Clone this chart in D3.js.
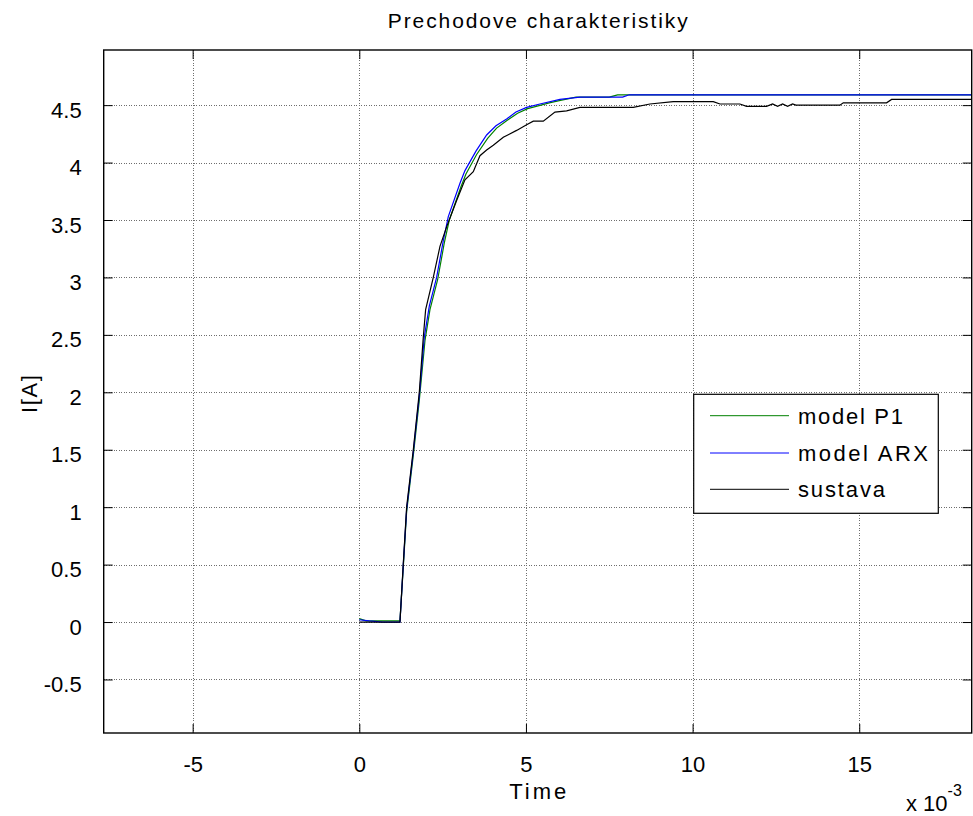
<!DOCTYPE html>
<html><head><meta charset="utf-8">
<script src="https://cdn.jsdelivr.net/npm/d3@7"></script>
<style>
body{margin:0;background:#fff;}
svg text{font-family:Arial,"Liberation Sans",sans-serif;fill:#000;}
</style></head>
<body>
<svg id="c" width="973" height="816"></svg>
<script>
// time in units of 1e-3 s
const xTicks = [-5, 0, 5, 10, 15];
const xTickLabels = ["-5", "0", "5", "10", "15"];
const yTicks = [-0.5, 0, 0.5, 1, 1.5, 2, 2.5, 3, 3.5, 4, 4.5];
const yTickLabels = ["-0.5","0","0.5","1","1.5","2","2.5","3","3.5","4","4.5"];
const seriesNames = ["model P1", "model ARX", "sustava"];
const seriesColors = ["#008000", "#0000ff", "#000000"];

const tP1 = [0,0.2,1.22,1.32,1.42,1.62,1.80,1.97,2.12,2.35,2.55,2.7,3.05,3.2,3.52,3.85,4.12,4.45,4.75,5.05,5.45,5.7,6.0,6.5,7.5,7.75,18.6];
const iP1 = [0.03,0.01,0.01,0.48,0.96,1.45,1.93,2.45,2.72,2.98,3.3,3.5,3.79,3.90,4.07,4.21,4.30,4.37,4.43,4.47,4.50,4.52,4.54,4.57,4.57,4.59,4.59];

const tARX = [0,0.3,0.7,1.22,1.32,1.42,1.62,1.80,1.95,2.1,2.32,2.52,2.67,3.02,3.17,3.5,3.82,4.1,4.42,4.7,5.02,5.42,6.02,6.62,7.9,8.1,18.6];
const iARX = [0.02,0.01,0,0,0.5,0.98,1.48,1.97,2.48,2.75,3.0,3.32,3.53,3.82,3.93,4.1,4.24,4.32,4.38,4.44,4.48,4.51,4.55,4.57,4.57,4.59,4.59];

const tSys = [0,1.22,1.32,1.42,1.62,1.80,1.92,1.99,2.22,2.42,2.62,2.92,3.17,3.42,3.62,3.82,4.02,4.32,4.72,5.02,5.22,5.52,5.87,6.22,6.62,8.22,8.72,9.42,10.62,10.82,11.42,11.62,12.22,12.4,12.55,12.7,12.85,13.0,13.1,14.42,14.52,15.82,15.97,18.6];
const iSys = [0,0,0.51,1.0,1.5,2.0,2.48,2.72,3.0,3.27,3.44,3.67,3.85,3.92,4.06,4.11,4.15,4.22,4.28,4.33,4.36,4.36,4.44,4.45,4.48,4.48,4.51,4.53,4.53,4.51,4.51,4.49,4.49,4.51,4.49,4.51,4.49,4.51,4.50,4.50,4.52,4.52,4.55,4.55];

const L = 103.7, R = 971.7, T = 50, B = 733;
const svg = d3.select("#c");
const x = d3.scaleLinear().domain([-7.669, 18.374]).range([L, R]);
const y = d3.scaleLinear().domain([-0.966, 4.98]).range([B, T]);

// grid
const grid = svg.append("g").attr("stroke", "#6e6e6e").attr("stroke-width", 1).attr("stroke-dasharray", "1,1.5").attr("shape-rendering","crispEdges");
xTicks.forEach(v => grid.append("line").attr("x1", Math.round(x(v))+0.5).attr("x2", Math.round(x(v))+0.5).attr("y1", T).attr("y2", B));
yTicks.forEach(v => grid.append("line").attr("y1", Math.round(y(v))+0.5).attr("y2", Math.round(y(v))+0.5).attr("x1", L).attr("x2", R));

// axes with inward ticks
const tl = 9;
const axB = svg.append("g").attr("transform", `translate(0,${B})`).call(d3.axisBottom(x).tickValues(xTicks).tickSizeInner(-tl).tickSizeOuter(0).tickPadding(tl+14).tickFormat((d,i)=>xTickLabels[i]));
const axT = svg.append("g").attr("transform", `translate(0,${T})`).call(d3.axisTop(x).tickValues(xTicks).tickSizeInner(-tl).tickSizeOuter(0).tickFormat(""));
const axL = svg.append("g").attr("transform", `translate(${L},0)`).call(d3.axisLeft(y).tickValues(yTicks).tickSizeInner(-tl).tickSizeOuter(0).tickPadding(tl+13).tickFormat((d,i)=>yTickLabels[i]));
const axR = svg.append("g").attr("transform", `translate(${R},0)`).call(d3.axisRight(y).tickValues(yTicks).tickSizeInner(-tl).tickSizeOuter(0).tickFormat(""));
[axB, axT, axL, axR].forEach(a => { a.select(".domain").remove(); a.selectAll("line").attr("stroke", "#000"); a.selectAll("text").attr("font-size", 22).attr("font-family", "Arial, 'Liberation Sans', sans-serif").attr("fill","#000"); });
axL.selectAll("text").attr("dy", "0.55em");

// data lines
svg.append("clipPath").attr("id", "clip").append("rect").attr("x", L).attr("y", T).attr("width", R - L).attr("height", B - T);
const line = d3.line().x(d => x(d[0])).y(d => y(d[1]));
const datasets = [d3.zip(tP1, iP1), d3.zip(tARX, iARX), d3.zip(tSys, iSys)];
const lg = svg.append("g").attr("clip-path", "url(#clip)");
datasets.forEach((ds, i) => lg.append("path").datum(ds).attr("d", line).attr("fill", "none").attr("stroke", seriesColors[i]).attr("stroke-width", 1.2));

// box
svg.append("rect").attr("x", L).attr("y", T).attr("width", R - L).attr("height", B - T).attr("fill", "none").attr("stroke", "#000").attr("stroke-width", 1.4);

// title and labels
svg.append("text").attr("x", (L + R) / 2).attr("y", 28).attr("text-anchor", "middle").attr("font-size", 21).attr("textLength", 300).attr("lengthAdjust", "spacing").text("Prechodove charakteristiky");
svg.append("text").attr("x", (L + R) / 2).attr("y", 799).attr("text-anchor", "middle").attr("font-size", 22).attr("textLength", 57).attr("lengthAdjust", "spacing").text("Time");
svg.append("text").attr("transform", "translate(37,394) rotate(-90)").attr("text-anchor", "middle").attr("font-size", 22).attr("textLength", 38).attr("lengthAdjust", "spacing").text("I[A]");
const ex = svg.append("text").attr("x", 906).attr("y", 811).attr("font-size", 22);
ex.append("tspan").text("x 10");
ex.append("tspan").attr("dy", -15).attr("font-size", 16).text("-3");

// legend
const leg = svg.append("g");
leg.append("rect").attr("x", 693.7).attr("y", 394.3).attr("width", 244.6).attr("height", 119).attr("fill", "#fff").attr("stroke", "#000").attr("stroke-width", 1.2);
const rows = [415.7, 453, 489.3];
const legLens = [105, 130, 87];
seriesNames.forEach((n, i) => {
  leg.append("line").attr("x1", 710).attr("x2", 789).attr("y1", rows[i]).attr("y2", rows[i]).attr("stroke", seriesColors[i]).attr("stroke-width", 1);
  leg.append("text").attr("x", 798).attr("y", rows[i] + 8).attr("font-size", 22).attr("textLength", legLens[i]).attr("lengthAdjust", "spacing").text(n);
});
</script>
</body></html>
